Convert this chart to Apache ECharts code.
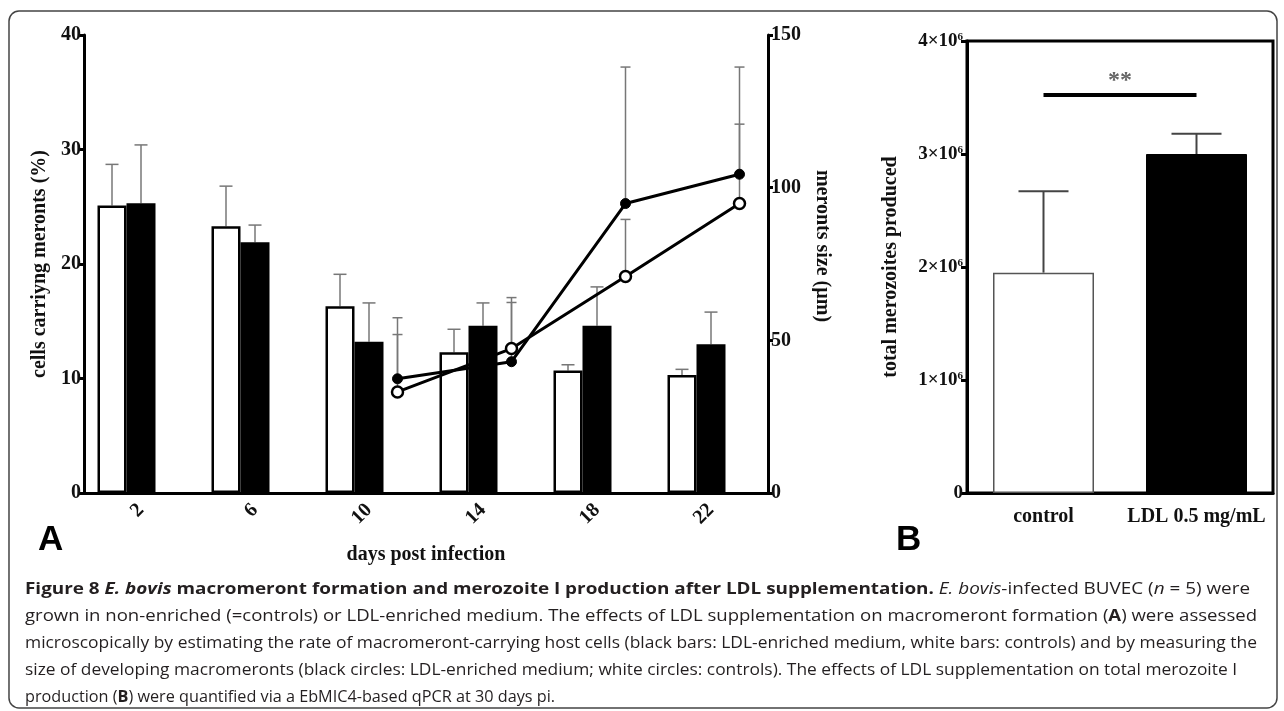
<!DOCTYPE html>
<html><head><meta charset="utf-8">
<script src="https://cdn.jsdelivr.net/npm/echarts@6/dist/echarts.min.js"></script>
<style>html,body{margin:0;padding:0;background:#fff}#c{width:1284px;height:711px}</style>
</head><body><div id="c"></div>
<script>
// ---------- Panel A data ----------
const days = ['2', '6', '10', '14', '18', '22'];
const controlPct = [25.1, 23.3, 16.3, 12.3, 10.7, 10.3];
const controlPctErr = [28.7, 26.8, 19.1, 14.3, 11.2, 10.8];   // upper end of error bar
const ldlPct = [25.3, 21.9, 13.2, 14.6, 14.6, 13.0];
const ldlPctErr = [30.4, 23.4, 16.6, 16.6, 18.0, 15.8];
const sizeDays = [10, 14, 18, 22];
const ldlSize = [37.4, 43.0, 94.8, 104.4];
const ldlSizeErr = [57.4, 64.0, 139.5, 139.5];
const controlSize = [33.1, 47.3, 70.9, 94.8];
const controlSizeErr = [51.9, 62.4, 89.6, 120.8];
const leftTicks = [0, 10, 20, 30, 40];
const rightTicks = [0, 50, 100, 150];
// ---------- Panel B data ----------
const groupsB = ['control', 'LDL 0.5 mg/mL'];
const merozoites = [1.95e6, 3.0e6];
const merozoitesErr = [2.67e6, 3.18e6];
const sigLevel = 3.52e6;
const sigLabel = '**';

const SERIF = '"Liberation Serif", "Times New Roman", serif';
const SANS = '"Open Sans", "Noto Sans", sans-serif';
const BAR_W = 29;          // px, panel A bar width
const LINE_SHIFT = 1;      // line points drawn one day to the right of the bar pair

const chart = echarts.init(document.getElementById('c'), null, {renderer: 'canvas'});

function errRenderer(color, lw, cap, slot) {
  return function (params, api) {
    const x0 = api.value(0), lo = api.value(1), hi = api.value(2);
    const b = api.coord([x0, lo]);
    const t = api.coord([x0, hi]);
    const x = b[0] + slot * BAR_W;
    return {
      type: 'group',
      children: [
        {type: 'line', shape: {x1: x, y1: b[1], x2: x, y2: t[1]}, style: {stroke: color, lineWidth: lw}},
        {type: 'line', shape: {x1: x - cap / 2, y1: t[1], x2: x + cap / 2, y2: t[1]}, style: {stroke: color, lineWidth: lw}}
      ]
    };
  };
}

const axisLab = {fontFamily: SERIF, fontWeight: 'bold', fontSize: 20, color: '#111'};

function sup(v) {
  if (v === 0) return '{n|0}';
  return '{n|' + (v / 1e6) + '×10}{s|6}';
}

// ---------- caption ----------
const capSize = 16.5;
const capLines = [
  [['Figure 8 ', 'bold', 'normal'], ['E. bovis', 'bold', 'italic'], [' macromeront formation and merozoite I production after LDL supplementation.', 'bold', 'normal'],
   [' ', 'normal', 'normal'], ['E. bovis', 'normal', 'italic'], ['-infected BUVEC (', 'normal', 'normal'], ['n', 'normal', 'italic'], [' = 5) were', 'normal', 'normal']],
  [['grown in non-enriched (=controls) or LDL-enriched medium. The effects of LDL supplementation on macromeront formation (', 'normal', 'normal'], ['A', 'bold', 'normal'], [') were assessed', 'normal', 'normal']],
  [['microscopically by estimating the rate of macromeront-carrying host cells (black bars: LDL-enriched medium, white bars: controls) and by measuring the', 'normal', 'normal']],
  [['size of developing macromeronts (black circles: LDL-enriched medium; white circles: controls). The effects of LDL supplementation on total merozoite I', 'normal', 'normal']],
  [['production (', 'normal', 'normal'], ['B', 'bold', 'normal'], [') were quantified via a EbMIC4-based qPCR at 30 days pi.', 'normal', 'normal']]
];
const capWidths = [1225, 1232, 1232, 1212, 530];   // rendered width of each caption line (px)
const ctx = document.createElement('canvas').getContext('2d');
function lineWidth(line) {
  let w = 0;
  line.forEach(s => { ctx.font = s[2] + ' ' + s[1] + ' ' + capSize + 'px ' + SANS; w += ctx.measureText(s[0]).width; });
  return w;
}
const richCap = {};
['normal', 'bold'].forEach(w => ['normal', 'italic'].forEach(st => {
  richCap[w[0] + st[0]] = {fontFamily: SANS, fontWeight: w, fontStyle: st, fontSize: capSize, fill: '#231f20'};
}));
const capY = [589, 616, 643, 670, 697];
const capGraphics = capLines.map((line, i) => ({
  type: 'text', x: 25, y: capY[i], scaleX: capWidths[i] / lineWidth(line), silent: true,
  style: {
    text: line.map(s => '{' + s[1][0] + s[2][0] + '|' + s[0] + '}').join(''),
    rich: richCap, verticalAlign: 'middle', align: 'left'
  }
}));

const option = {
  animation: false,
  backgroundColor: '#fff',
  grid: [
    {left: 84, right: 516, top: 35, bottom: 218, containLabel: false},
    {left: 967, right: 11, top: 41, bottom: 218, containLabel: false, show: true, borderColor: '#000', borderWidth: 3}
  ],
  xAxis: [
    {type: 'category', gridIndex: 0, data: days, boundaryGap: true,
     axisLine: {lineStyle: {color: '#000', width: 3}},
     axisTick: {alignWithLabel: true, length: 6, lineStyle: {color: '#000', width: 3}},
     axisLabel: Object.assign({rotate: 45, margin: 14, interval: 0}, axisLab),
     name: 'days post infection', nameLocation: 'middle', nameGap: 52,
     nameTextStyle: {fontFamily: SERIF, fontWeight: 'bold', fontSize: 20, color: '#111'}},
    {type: 'value', gridIndex: 0, min: 0, max: 24, show: false},
    {type: 'category', gridIndex: 1, data: groupsB,
     axisLine: {lineStyle: {color: '#000', width: 3}},
     axisTick: {alignWithLabel: true, length: 6, lineStyle: {color: '#000', width: 3}},
     axisLabel: Object.assign({margin: 14, interval: 0}, axisLab)}
  ],
  yAxis: [
    {type: 'value', gridIndex: 0, min: leftTicks[0], max: leftTicks[leftTicks.length - 1], interval: 10,
     splitLine: {show: false},
     axisLine: {show: true, lineStyle: {color: '#000', width: 3}},
     axisTick: {show: true, length: 5, lineStyle: {color: '#000', width: 3}},
     axisLabel: Object.assign({margin: 3}, axisLab),
     name: 'cells carriyng meronts (%)', nameLocation: 'middle', nameGap: 34, nameRotate: 90,
     nameTextStyle: {fontFamily: SERIF, fontWeight: 'bold', fontSize: 20, color: '#111'}},
    {type: 'value', gridIndex: 0, position: 'right', min: rightTicks[0], max: rightTicks[rightTicks.length - 1], interval: 50,
     splitLine: {show: false},
     axisLine: {show: true, lineStyle: {color: '#000', width: 3}},
     axisTick: {show: true, length: 5, lineStyle: {color: '#000', width: 3}},
     axisLabel: Object.assign({margin: 3}, axisLab),
     name: 'meronts size (µm)', nameLocation: 'middle', nameGap: 42, nameRotate: -90,
     nameTextStyle: {fontFamily: SERIF, fontWeight: 'bold', fontSize: 20, color: '#111', padding: [0, 36, 0, 0]}},
    {type: 'value', gridIndex: 1, min: 0, max: 4e6, interval: 1e6,
     splitLine: {show: false},
     axisLine: {show: true, lineStyle: {color: '#000', width: 3}},
     axisTick: {show: true, length: 6, lineStyle: {color: '#000', width: 3}},
     axisLabel: {margin: 4, formatter: sup, rich: {
       n: {fontFamily: SERIF, fontWeight: 'bold', fontSize: 19, color: '#111'},
       s: {fontFamily: SERIF, fontWeight: 'bold', fontSize: 11, color: '#111', verticalAlign: 'top', padding: [0, 0, 8, 0]}}},
     name: 'total merozoites produced', nameLocation: 'middle', nameGap: 66, nameRotate: 90,
     nameTextStyle: {fontFamily: SERIF, fontWeight: 'bold', fontSize: 20, color: '#111'}}
  ],
  series: [
    {type: 'bar', name: 'control %', xAxisIndex: 0, yAxisIndex: 0, data: controlPct, barWidth: BAR_W, barGap: '0%',
     itemStyle: {color: '#fff', borderColor: '#000', borderWidth: 2.5}, z: 3},
    {type: 'bar', name: 'LDL %', xAxisIndex: 0, yAxisIndex: 0, data: ldlPct, barWidth: BAR_W, barGap: '0%',
     itemStyle: {color: '#000', borderColor: '#000', borderWidth: 2.5}, z: 3},
    {type: 'bar', name: 'spacer', xAxisIndex: 0, yAxisIndex: 0, data: days.map(() => '-'), barWidth: BAR_W, barGap: '0%', silent: true},
    {type: 'custom', name: 'control % err', xAxisIndex: 0, yAxisIndex: 0, z: 2,
     renderItem: errRenderer('#777', 1.5, 13, -1), data: controlPct.map((v, i) => [i, v, controlPctErr[i]])},
    {type: 'custom', name: 'LDL % err', xAxisIndex: 0, yAxisIndex: 0, z: 2,
     renderItem: errRenderer('#777', 1.5, 13, 0), data: ldlPct.map((v, i) => [i, v, ldlPctErr[i]])},
    {type: 'custom', name: 'LDL size err', xAxisIndex: 1, yAxisIndex: 1, z: 4,
     renderItem: errRenderer('#777', 1.5, 10, 0), data: ldlSize.map((v, i) => [sizeDays[i] + LINE_SHIFT, v, ldlSizeErr[i]])},
    {type: 'custom', name: 'control size err', xAxisIndex: 1, yAxisIndex: 1, z: 4,
     renderItem: errRenderer('#777', 1.5, 10, 0), data: controlSize.map((v, i) => [sizeDays[i] + LINE_SHIFT, v, controlSizeErr[i]])},
    {type: 'line', name: 'LDL size', xAxisIndex: 1, yAxisIndex: 1, z: 5,
     data: ldlSize.map((v, i) => [sizeDays[i] + LINE_SHIFT, v]),
     symbol: 'circle', symbolSize: 10, lineStyle: {color: '#000', width: 3},
     itemStyle: {color: '#000', borderColor: '#000', borderWidth: 1}},
    {type: 'line', name: 'control size', xAxisIndex: 1, yAxisIndex: 1, z: 6,
     data: controlSize.map((v, i) => [sizeDays[i] + LINE_SHIFT, v]),
     symbol: 'circle', symbolSize: 11, showAllSymbol: true, lineStyle: {color: '#000', width: 3},
     itemStyle: {color: '#fff', borderColor: '#000', borderWidth: 2.5}},
    // Panel B
    {type: 'bar', name: 'merozoites', xAxisIndex: 2, yAxisIndex: 2, barWidth: 101,
     data: merozoites.map((v, i) => ({value: v, itemStyle: i === 0 ? {color: '#fff', borderColor: '#555', borderWidth: 1.5} : {color: '#000', borderColor: '#000', borderWidth: 1}})),
     z: 3,
     markLine: {symbol: 'none', silent: true, animation: false,
       lineStyle: {color: '#000', width: 4, type: 'solid'},
       label: {show: true, position: 'middle', formatter: sigLabel, distance: 2,
               fontFamily: SERIF, fontWeight: 'bold', fontSize: 24, color: '#666'},
       emphasis: {disabled: true},
       data: [[{coord: [0, sigLevel]}, {coord: [1, sigLevel]}]]}},
    {type: 'custom', name: 'merozoites err', xAxisIndex: 2, yAxisIndex: 2, z: 2,
     renderItem: errRenderer('#444', 2, 50, 0), data: merozoites.map((v, i) => [i, v, merozoitesErr[i]])}
  ],
  graphic: [
    {type: 'rect', silent: true, shape: {x: 9, y: 11, width: 1268, height: 697, r: 10},
     style: {fill: 'none', stroke: '#444', lineWidth: 1.5}},
    {type: 'text', x: 38, y: 540, silent: true,
     style: {text: 'A', font: 'bold 35px "Liberation Sans", Arial, sans-serif', fill: '#000', verticalAlign: 'middle'}},
    {type: 'text', x: 896, y: 540, silent: true,
     style: {text: 'B', font: 'bold 35px "Liberation Sans", Arial, sans-serif', fill: '#000', verticalAlign: 'middle'}}
  ].concat(capGraphics)
};
chart.setOption(option);
</script></body></html>
